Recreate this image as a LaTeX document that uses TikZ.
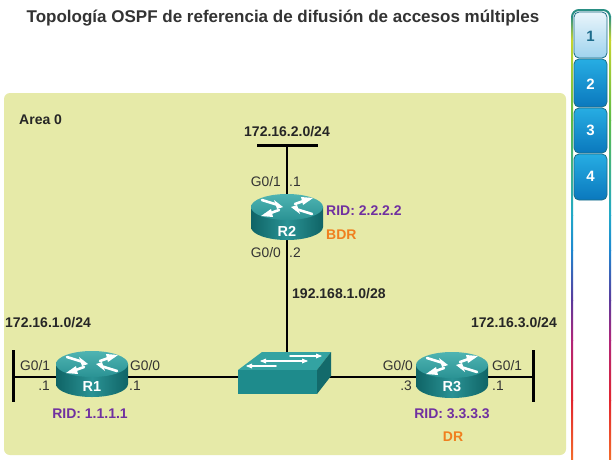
\documentclass[tikz,border=0pt]{standalone}
\usepackage{fontspec}
\setmainfont{Liberation Sans}
\begin{document}
\begin{tikzpicture}[x=1pt,y=-1pt,
  lab/.style={font=\fontsize{14}{14}\selectfont\bfseries, text=black!85, inner sep=0pt},
  ifc/.style={font=\fontsize{13.8}{14}\selectfont, text=black!80, inner sep=0pt},
  rid/.style={font=\fontsize{14}{14}\selectfont\bfseries, text=ridc, inner sep=0pt},
  role/.style={font=\fontsize{14}{14}\selectfont\bfseries, text=rolec, inner sep=0pt},
  rname/.style={font=\fontsize{14.5}{15}\selectfont\bfseries, text=white, inner sep=0pt},
  link/.style={line width=2pt, black},
  barline/.style={line width=3pt, black},
  routerbox/.style={minimum width=72pt, minimum height=46pt, inner sep=0pt},
  tabbox/.style={rounded corners=5pt, draw=tabedge, line width=0.8pt},
  tabnum/.style={font=\fontsize{15}{15}\selectfont\bfseries, inner sep=0pt},
  rarrow/.style={white, line width=2.6pt, line cap=round},
  router/.pic={
    \shade[left color=rtdark, right color=rtdark, middle color=rtmid]
      (-36,0) -- (-36,20) arc[start angle=180, end angle=0, x radius=36, y radius=13] -- (36,0) -- cycle;
    \shade[top color=rtlight, bottom color=rtmid] (0,0) ellipse[x radius=36, y radius=13];
    % left pair pointing to centre, right pair pointing outwards
    \draw[rarrow] (-25,-7) -- (-9,-2);
    \fill[white] (-4,0) -- (-13,-7) -- (-10,2) -- cycle;
    \draw[rarrow] (-22,8) -- (-8,3);
    \fill[white] (-26,9) -- (-16,2) -- (-14,10) -- cycle;
    \draw[rarrow] (8,-3) -- (22,-8);
    \fill[white] (26,-9) -- (16,-2) -- (14,-10) -- cycle;
    \draw[rarrow] (25,7) -- (9,2);
    \fill[white] (4,0) -- (13,7) -- (10,-2) -- cycle;
  }]
\definecolor{bg}{HTML}{E6EAA8}
\definecolor{ridc}{HTML}{7030A0}
\definecolor{rolec}{HTML}{F07F1E}
\definecolor{rtdark}{HTML}{0F6466}
\definecolor{rtmid}{HTML}{2A9294}
\definecolor{rtlight}{HTML}{4FB4B2}
\definecolor{swtop}{HTML}{33A3A2}
\definecolor{swfront}{HTML}{1E8B8C}
\definecolor{swside}{HTML}{136A6B}
\definecolor{tabedge}{HTML}{1B6E86}
\definecolor{g1}{HTML}{2A8F84}
\definecolor{g2}{HTML}{C6D52E}
\definecolor{g3}{HTML}{5DBB47}
\definecolor{g4}{HTML}{22A9C8}
\definecolor{g5}{HTML}{1E88D0}
\definecolor{g6}{HTML}{5A3A9C}
\definecolor{g7}{HTML}{B0257A}
\definecolor{g8}{HTML}{E2252E}
\definecolor{g9}{HTML}{F36B2C}
\definecolor{tlt}{HTML}{EAF5FB}
\definecolor{tlb}{HTML}{9FD3EE}
\definecolor{tdt}{HTML}{27ADE3}
\definecolor{tdb}{HTML}{0A78BD}
\definecolor{tnum}{HTML}{1D6C8C}
\useasboundingbox (0,0) rectangle (612,459);
\fill[white] (0,0) rectangle (612,459);

% title
\node[font=\fontsize{17}{17}\selectfont\bfseries, text=black!80, inner sep=0pt] (title) at (283,18) {Topología OSPF de referencia de difusión de accesos múltiples};

% area
\fill[bg, rounded corners=6pt] (4,93) rectangle (566,455);
\node[lab, anchor=west] (area) at (19,120) {Area 0};

% coordinates
\coordinate (n2a) at (257,145);
\coordinate (n2b) at (318,145);
\coordinate (n2) at (287,145);
\coordinate (b1a) at (13,350);
\coordinate (b1b) at (13,402);
\coordinate (b1) at (13,377);
\coordinate (b3a) at (533,350);
\coordinate (b3b) at (533,402);
\coordinate (b3) at (533,377);
\coordinate (sw) at (287,377);

\draw[barline] (n2a) -- (n2b);
\draw[barline] (b1a) -- (b1b);
\draw[barline] (b3a) -- (b3b);
\draw[link] (n2) -- (sw);
\draw[link] (b1) -- (sw);
\draw[link] (sw) -- (b3);

% switch
\node[minimum width=92pt, minimum height=44pt, inner sep=0pt] (S1) at (285,373) {};
\fill[swtop] (238,370) -- (317,370) -- (331,352) -- (262,352) -- cycle;
\fill[swfront] (238,370) rectangle (317,394);
\fill[swside] (317,370) -- (331,352) -- (331,376) -- (317,394) -- cycle;
\draw[white, line width=1.6pt, line cap=round] (290,356) -- (320,356);
\draw[white, line width=1.6pt, line cap=round] (262,361) -- (292,361);
\draw[white, line width=1.6pt, line cap=round] (284,361) -- (306,361);
\draw[white, line width=1.6pt, line cap=round] (248,366) -- (276,366);
\fill[white] (260,361) -- (266,358.5) -- (266,363.5) -- cycle;
\fill[white] (322,356) -- (316,353.5) -- (316,358.5) -- cycle;
\fill[white] (308,361) -- (302,358.5) -- (302,363.5) -- cycle;
\fill[white] (246,366) -- (252,363.5) -- (252,368.5) -- cycle;

% routers
\node[routerbox] (R1) at (92,375) {};
\node[routerbox] (R2) at (287,218) {};
\node[routerbox] (R3) at (452,375) {};
\pic at (92,364) {router};
\pic at (287,207) {router};
\pic at (452,365) {router};
\node[rname] (R1n) at (92,386) {R1};
\node[rname] (R2n) at (287,231) {R2};
\node[rname] (R3n) at (452,387) {R3};

% labels R2
\node[lab] (net2l) at (287,132) {172.16.2.0/24};
\node[ifc, anchor=east] (r2g1) at (281,182) {G0/1};
\node[ifc, anchor=west] (r2g1a) at (289,182) {.1};
\node[ifc, anchor=east] (r2g0) at (281,253) {G0/0};
\node[ifc, anchor=west] (r2g0a) at (289,253) {.2};
\node[rid, anchor=west] (rid2) at (326,211) {RID: 2.2.2.2};
\node[role, anchor=west] (bdr) at (326,235) {BDR};
\node[lab, anchor=west] (lan) at (292,294) {192.168.1.0/28};

% labels R1
\node[lab, anchor=west] (net1l) at (5,323) {172.16.1.0/24};
\node[ifc, anchor=west] (r1g1) at (20,366) {G0/1};
\node[ifc, anchor=east] (r1g1a) at (50,386) {.1};
\node[ifc, anchor=west] (r1g0) at (130,366) {G0/0};
\node[ifc, anchor=west] (r1g0a) at (129,386) {.1};
\node[rid] (rid1) at (90,414) {RID: 1.1.1.1};

% labels R3
\node[lab, anchor=east] (net3l) at (557,323) {172.16.3.0/24};
\node[ifc, anchor=east] (r3g0) at (413,366) {G0/0};
\node[ifc, anchor=east] (r3g0a) at (412,386) {.3};
\node[ifc, anchor=west] (r3g1) at (492,366) {G0/1};
\node[ifc, anchor=west] (r3g1a) at (492,386) {.1};
\node[rid] (rid3) at (452,414) {RID: 3.3.3.3};
\node[role] (dr) at (453,437) {DR};

% right tab panel frame (gradient)
\foreach \x in {571,609}{
  \shade[top color=g1, bottom color=g2] (\x,16) rectangle (\x+2,40);
  \shade[top color=g2, bottom color=g3] (\x,40) rectangle (\x+2,120);
  \shade[top color=g3, bottom color=g4] (\x,120) rectangle (\x+2,215);
  \shade[top color=g4, bottom color=g5] (\x,215) rectangle (\x+2,250);
  \shade[top color=g5, bottom color=g6] (\x,250) rectangle (\x+2,300);
  \shade[top color=g6, bottom color=g7] (\x,300) rectangle (\x+2,340);
  \shade[top color=g7, bottom color=g8] (\x,340) rectangle (\x+2,400);
  \shade[top color=g8, bottom color=g9] (\x,400) rectangle (\x+2,459);
}
\draw[line width=2pt, g1] (572,17) arc[start angle=180, end angle=270, radius=7] -- (603,10) arc[start angle=270, end angle=360, radius=7];

% tabs
\shade[tabbox, top color=tlt, bottom color=tlb] (574,12) rectangle (607,58);
\node[tabnum, text=tnum] (t1) at (590.5,36) {1};
\shade[tabbox, top color=tdt, bottom color=tdb] (574,59) rectangle (607,107);
\node[tabnum, text=white] (t2) at (590.5,84) {2};
\shade[tabbox, top color=tdt, bottom color=tdb] (574,108) rectangle (607,153);
\node[tabnum, text=white] (t3) at (590.5,130) {3};
\shade[tabbox, top color=tdt, bottom color=tdb] (574,154) rectangle (607,200);
\node[tabnum, text=white] (t4) at (590.5,176) {4};
\end{tikzpicture}
\end{document}
